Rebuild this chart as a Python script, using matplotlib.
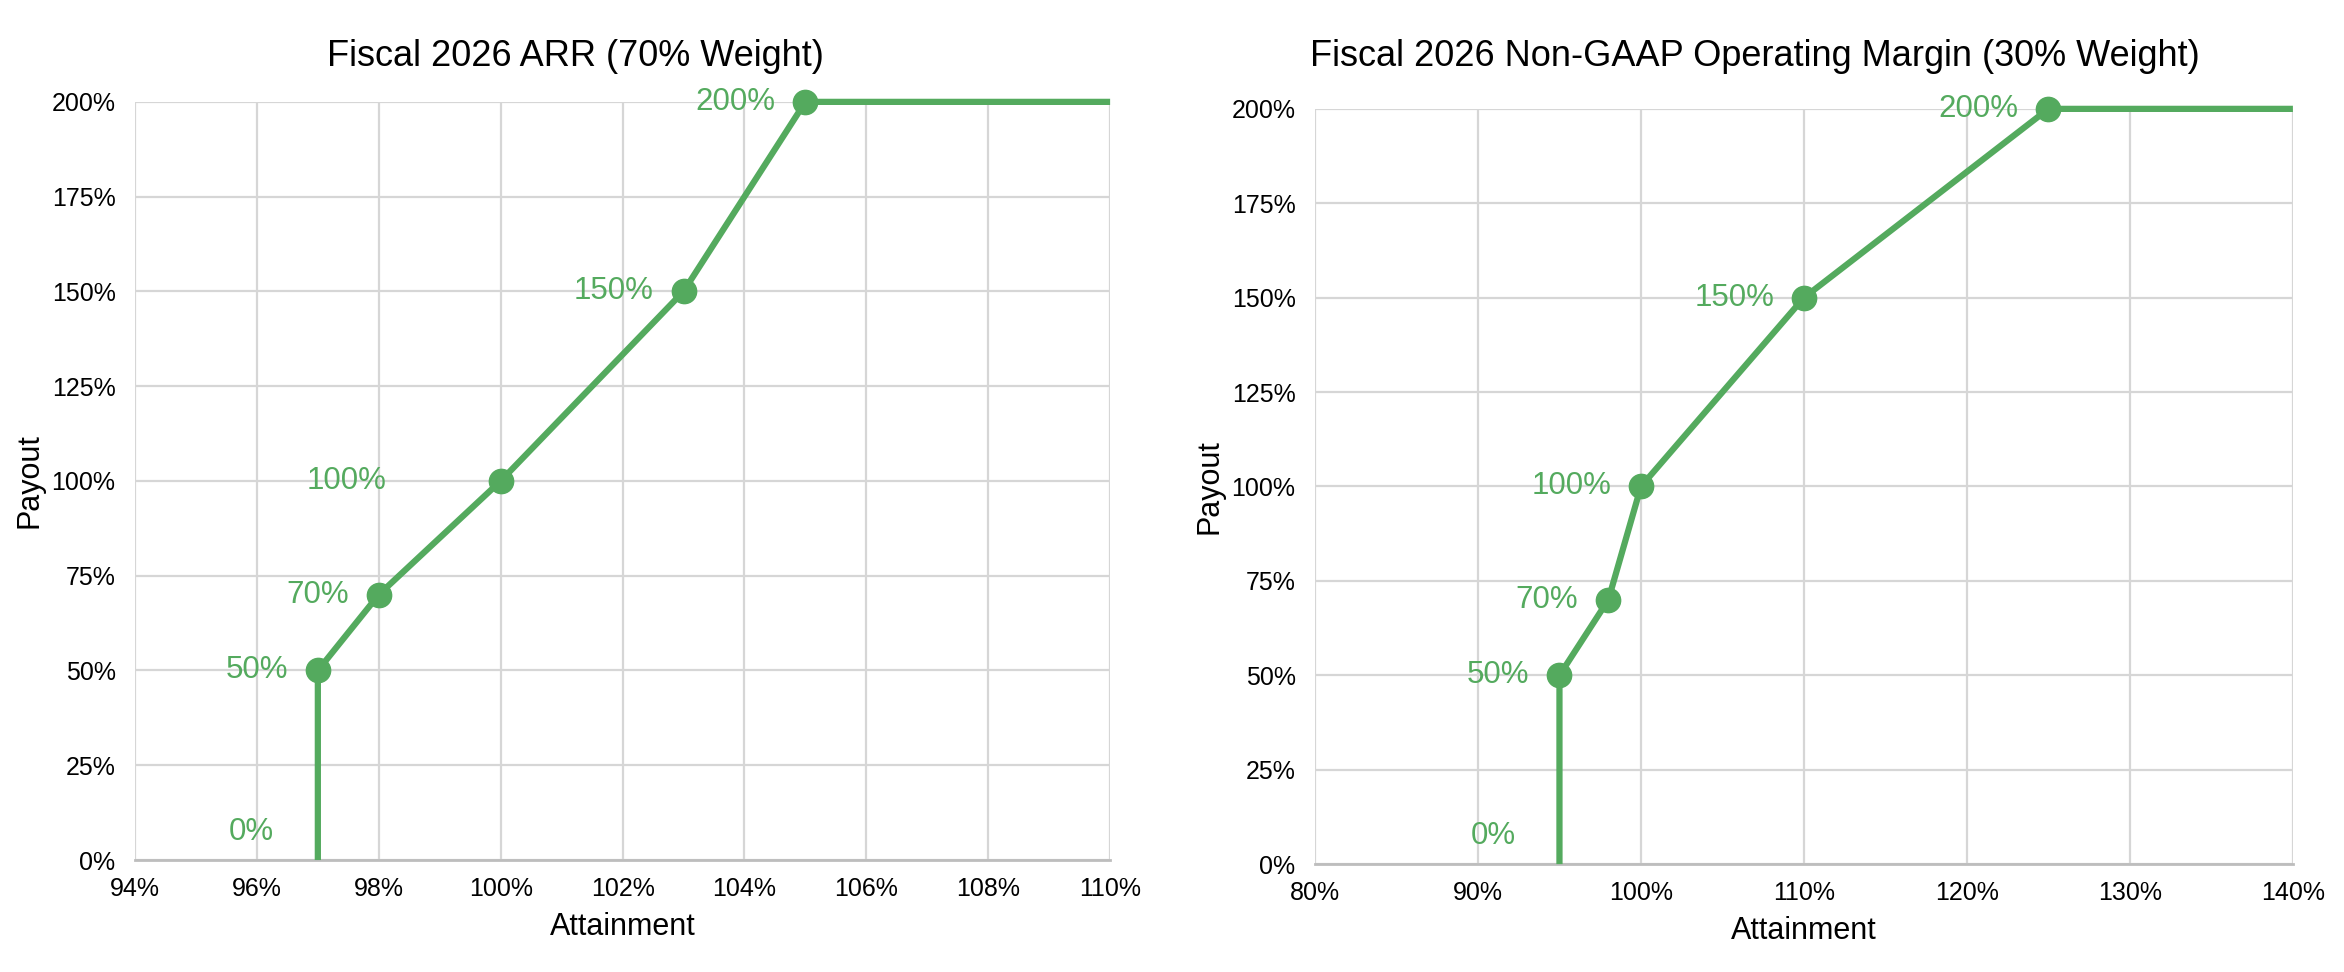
import matplotlib

matplotlib.use("Agg")
import matplotlib.pyplot as plt
from matplotlib.ticker import FuncFormatter

# ARR curve (left)
arr_attainment = [97, 97, 98, 100, 103, 105, 110]
arr_payout = [0, 50, 70, 100, 150, 200, 200]
arr_xticks = [94, 96, 98, 100, 102, 104, 106, 108, 110]

# Non-GAAP operating margin curve (right)
margin_attainment = [95, 95, 98, 100, 110, 125, 140]
margin_payout = [0, 50, 70, 100, 150, 200, 200]
margin_xticks = [80, 90, 100, 110, 120, 130, 140]

payout_ticks = [0, 25, 50, 75, 100, 125, 150, 175, 200]

GREEN = "#54AA5E"
GRID = "#d6d6d6"
AXIS = "#bdbdbd"

plt.rcParams["font.family"] = ["Liberation Sans", "DejaVu Sans"]


def pct(v, pos=None):
    return "%d%%" % v


def draw_curve(ax, xs, ys, xticks, label_shift):
    # the last point only carries the flat cap out to the axis edge
    ax.plot(xs, ys, color=GREEN, lw=4.5, solid_capstyle="butt", clip_on=False, zorder=3)
    ax.plot(xs[1:-1], ys[1:-1], "o", color=GREEN, ms=17.5, clip_on=False, zorder=4)

    for i in range(len(xs) - 1):
        dx, dy = label_shift.get(i, (-21.5, 0))
        ax.annotate(
            "%d%%" % ys[i],
            (xs[i], ys[i]),
            xytext=(dx, dy),
            textcoords="offset points",
            ha="right",
            va="center",
            color=GREEN,
            fontsize=22.5,
            annotation_clip=False,
        )

    ax.set_xlim(xticks[0], xticks[-1])
    ax.set_ylim(0, 200)
    ax.set_xticks(xticks)
    ax.set_yticks(payout_ticks)
    ax.xaxis.set_major_formatter(FuncFormatter(pct))
    ax.yaxis.set_major_formatter(FuncFormatter(pct))
    ax.tick_params(axis="both", length=0, labelsize=18)
    ax.tick_params(axis="x", pad=12)
    ax.tick_params(axis="y", pad=14)
    ax.grid(True, color=GRID, lw=1.6)
    ax.set_axisbelow(True)
    for side in ["top", "right", "left"]:
        ax.spines[side].set_visible(False)
    ax.spines["bottom"].set_color(AXIS)
    ax.spines["bottom"].set_linewidth(2)

    ax.set_xlabel("Attainment", fontsize=22, va="center")
    ax.set_ylabel("Payout", fontsize=22, va="center")
    ax.xaxis.set_label_coords(0.5, -0.088)
    ax.yaxis.set_label_coords(-0.108, 0.5)


fig = plt.figure(figsize=(23.44, 9.72), dpi=100)
ax1 = fig.add_axes([0.0576, 0.1152, 0.416, 0.780])
ax2 = fig.add_axes([0.561, 0.111, 0.4172, 0.777])

draw_curve(ax1, arr_attainment, arr_payout, arr_xticks, {0: (-31.7, 20), 3: (-82, 0)})
draw_curve(ax2, margin_attainment, margin_payout, margin_xticks, {0: (-31.7, 20)})

fig.text(0.2453, 0.942, "Fiscal 2026 ARR (70% Weight)", fontsize=26, ha="center", va="center")
fig.text(
    0.7487,
    0.942,
    "Fiscal 2026 Non-GAAP Operating Margin (30% Weight)",
    fontsize=26,
    ha="center",
    va="center",
)

fig.savefig("out.png", dpi=100)
